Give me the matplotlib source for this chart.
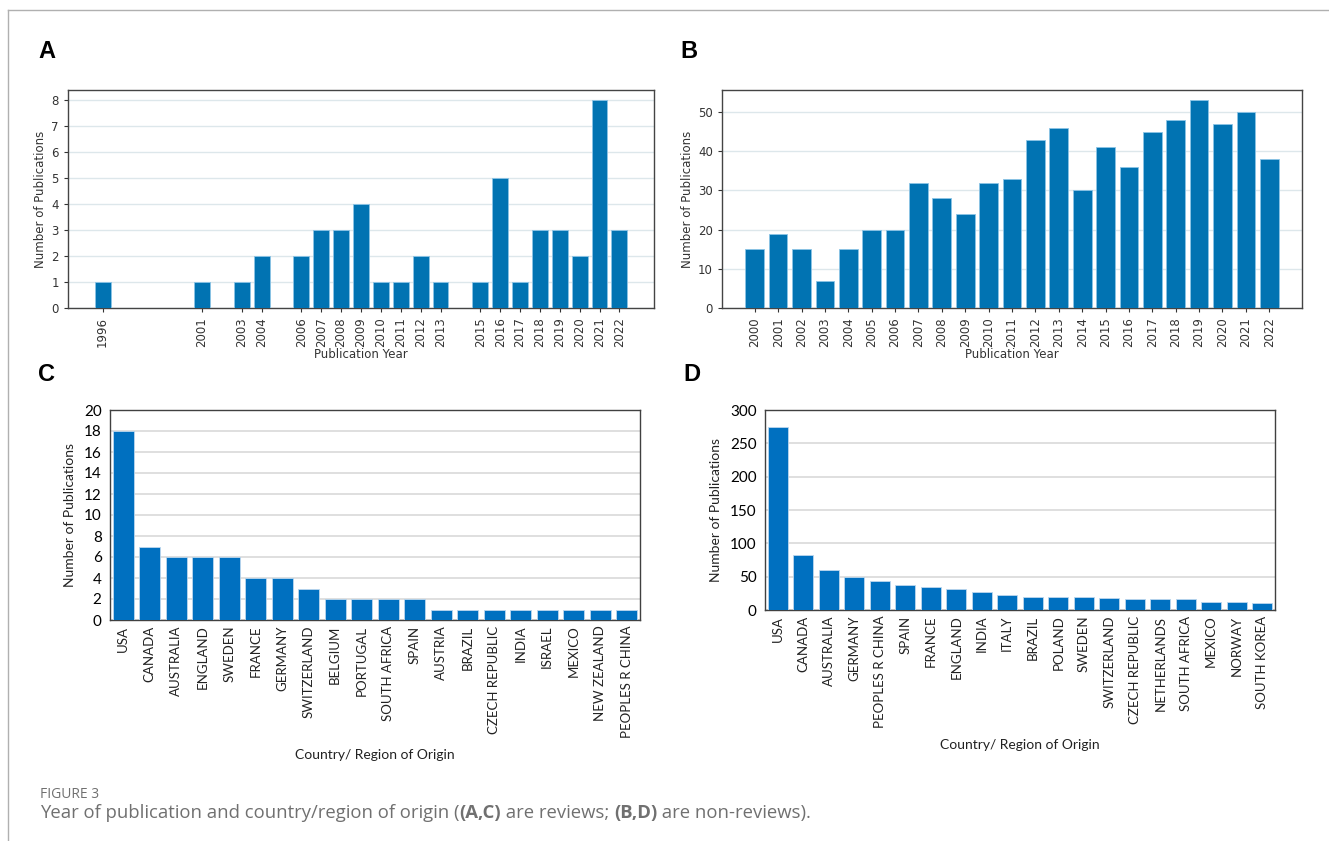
import matplotlib
matplotlib.use("Agg")
import matplotlib.pyplot as plt
from matplotlib.lines import Line2D

# data
yearsA = [1996, 2001, 2003, 2004, 2006, 2007, 2008, 2009, 2010, 2011, 2012, 2013,
          2015, 2016, 2017, 2018, 2019, 2020, 2021, 2022]
countsA = [1, 1, 1, 2, 2, 3, 3, 4, 1, 1, 2, 1, 1, 5, 1, 3, 3, 2, 8, 3]

yearsB = list(range(2000, 2023))
countsB = [15, 19, 15, 7, 15, 20, 20, 32, 28, 24, 32, 33, 43, 46, 30, 41, 36, 45, 48, 53, 47, 50, 38]

countriesC = ["USA", "CANADA", "AUSTRALIA", "ENGLAND", "SWEDEN", "FRANCE", "GERMANY",
              "SWITZERLAND", "BELGIUM", "PORTUGAL", "SOUTH AFRICA", "SPAIN", "AUSTRIA",
              "BRAZIL", "CZECH REPUBLIC", "INDIA", "ISRAEL", "MEXICO", "NEW ZEALAND",
              "PEOPLES R CHINA"]
countsC = [18, 7, 6, 6, 6, 4, 4, 3, 2, 2, 2, 2, 1, 1, 1, 1, 1, 1, 1, 1]

countriesD = ["USA", "CANADA", "AUSTRALIA", "GERMANY", "PEOPLES R CHINA", "SPAIN", "FRANCE",
              "ENGLAND", "INDIA", "ITALY", "BRAZIL", "POLAND", "SWEDEN", "SWITZERLAND",
              "CZECH REPUBLIC", "NETHERLANDS", "SOUTH AFRICA", "MEXICO", "NORWAY", "SOUTH KOREA"]
countsD = [275, 83, 60, 49, 43, 37, 35, 32, 27, 23, 20, 20, 20, 18, 17, 17, 17, 12, 12, 11]

W, H = 1329, 841
fig = plt.figure(figsize=(W / 100, H / 100), dpi=100)


def box(l, t, r, b):
    # pixel box -> figure fraction
    return [l / W, 1 - b / H, (r - l) / W, (b - t) / H]


def panel_py(ax, x, y, ticks):
    # the two python-style year charts
    ax.bar(x, y, width=0.8, color="#0173b2", edgecolor="#8cc4e6", linewidth=0.6, zorder=3)
    ax.set_xticks(ticks)
    ax.set_xticklabels([str(t) for t in ticks], rotation=90, fontsize=8.5, color="#333333")
    ax.tick_params(axis="y", labelsize=8.5, labelcolor="#333333", length=3, color="#333333")
    ax.tick_params(axis="x", length=3, color="#333333")
    ax.yaxis.grid(True, color="#dde7eb", linewidth=1, zorder=0)
    for s in ax.spines.values():
        s.set_color("#444444")
        s.set_linewidth(1)
    ax.set_xlabel("Publication Year", fontsize=8.5, color="#333333", labelpad=1)
    ax.set_ylabel("Number of Publications", fontsize=8.5, color="#333333", labelpad=3)


def panel_xl(ax, names, vals, ymax, step):
    # the two excel-style country charts
    pos = list(range(len(names)))
    ax.bar(pos, vals, width=0.8, color="#0070c0", edgecolor="#bcd7ee", linewidth=0.6, zorder=3)
    ax.set_xlim(-0.5, len(names) - 0.5)
    ax.set_ylim(0, ymax)
    ax.set_yticks(list(range(0, ymax + 1, step)))
    ax.set_xticks(pos)
    ax.set_xticklabels(names, rotation=90, fontsize=9.5, family="Lato", color="#222222")
    ax.tick_params(axis="y", labelsize=11, length=0, pad=6)
    for lab in ax.get_yticklabels():
        lab.set_family("Lato")
    ax.tick_params(axis="x", length=0, pad=4)
    ax.yaxis.grid(True, color="#d9d9d9", linewidth=1.2, zorder=0)
    for s in ax.spines.values():
        s.set_color("#404040")
        s.set_linewidth(1)
    ax.set_xlabel("Country/ Region of Origin", fontsize=10, family="Lato", color="#222222", labelpad=8)
    ax.set_ylabel("Number of Publications", fontsize=10, family="Lato", color="#222222", labelpad=6)


axA = fig.add_axes(box(68, 90, 654, 308))
panel_py(axA, yearsA, countsA, yearsA)

axB = fig.add_axes(box(722, 90, 1302, 308))
panel_py(axB, yearsB, countsB, yearsB)
axB.set_xlim(yearsB[0] - 1.4, yearsB[-1] + 1.4)

axC = fig.add_axes(box(110, 410, 640, 620))
panel_xl(axC, countriesC, countsC, 20, 2)

axD = fig.add_axes(box(765, 410, 1275, 610))
panel_xl(axD, countriesD, countsD, 300, 50)

# panel letters
for letter, px, py in [("A", 38, 52), ("B", 680, 52), ("C", 38, 375), ("D", 683, 375)]:
    fig.text(px / W, 1 - py / H, letter, fontsize=17, fontweight="bold", family="Liberation Sans",
             va="center", ha="left")

# page frame
fig.add_artist(Line2D([8 / W, 1], [1 - 10 / H, 1 - 10 / H], color="#b0b0b0", linewidth=1))
fig.add_artist(Line2D([8 / W, 8 / W], [0, 1 - 10 / H], color="#b0b0b0", linewidth=1))

# caption
fig.text(40 / W, 1 - 795 / H, "FIGURE 3", fontsize=10, family="Open Sans", color="#707070", va="center")
parts = [("Year of publication and country/region of origin (", "normal"),
         ("(A,C)", "bold"), (" are reviews; ", "normal"), ("(B,D)", "bold"),
         (" are non-reviews).", "normal")]
renderer = fig.canvas.get_renderer()
xpix = 40
for txt, wt in parts:
    t = fig.text(xpix / W, 1 - 813 / H, txt, fontsize=13.3, family="Open Sans", color="#707070",
                 fontweight=wt, va="center")
    xpix += t.get_window_extent(renderer).width

fig.savefig("out.png", dpi=100)
